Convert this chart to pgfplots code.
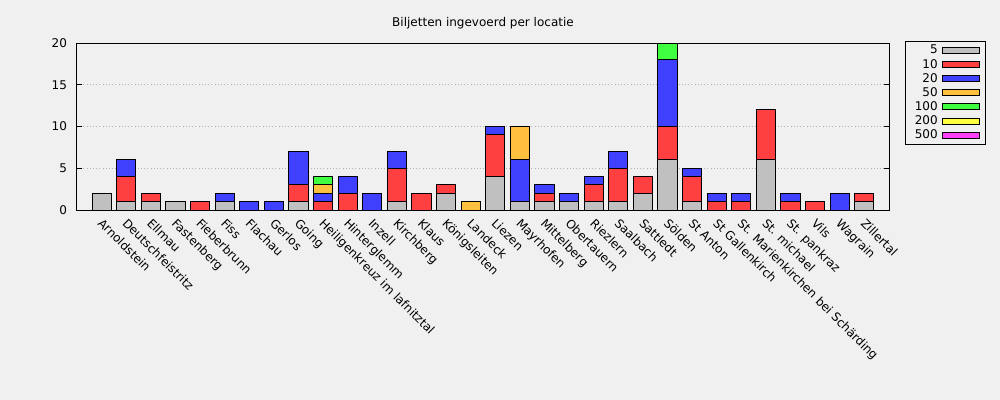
\documentclass[border=0pt]{standalone}
\usepackage{fontspec}
\setmainfont{DejaVu Sans}
\usepackage{pgfplots}
\usepackage{pgfplotstable}
\pgfplotsset{compat=1.18}
\definecolor{bg}{RGB}{240,240,240}
\definecolor{cA}{RGB}{192,192,192}
\definecolor{cB}{RGB}{255,64,64}
\definecolor{cC}{RGB}{64,64,255}
\definecolor{cD}{RGB}{255,192,64}
\definecolor{cE}{RGB}{64,255,64}
\definecolor{cF}{RGB}{255,255,64}
\definecolor{cG}{RGB}{255,64,255}
\pgfplotstableread{
x a b c d e f g
0 2 0 0 0 0 0 0
1 1 3 2 0 0 0 0
2 1 1 0 0 0 0 0
3 1 0 0 0 0 0 0
4 0 1 0 0 0 0 0
5 1 0 1 0 0 0 0
6 0 0 1 0 0 0 0
7 0 0 1 0 0 0 0
8 1 2 4 0 0 0 0
9 0 1 1 1 1 0 0
10 0 2 2 0 0 0 0
11 0 0 2 0 0 0 0
12 1 4 2 0 0 0 0
13 0 2 0 0 0 0 0
14 2 1 0 0 0 0 0
15 0 0 0 1 0 0 0
16 4 5 1 0 0 0 0
17 1 0 5 4 0 0 0
18 1 1 1 0 0 0 0
19 1 0 1 0 0 0 0
20 1 2 1 0 0 0 0
21 1 4 2 0 0 0 0
22 2 2 0 0 0 0 0
23 6 4 8 0 2 0 0
24 1 3 1 0 0 0 0
25 0 1 1 0 0 0 0
26 0 1 1 0 0 0 0
27 6 6 0 0 0 0 0
28 0 1 1 0 0 0 0
29 0 1 0 0 0 0 0
30 0 0 2 0 0 0 0
31 1 1 0 0 0 0 0
}\data
\newcommand{\fs}{\fontsize{9}{10.5}\selectfont}
\begin{document}
\begin{tikzpicture}
\fill[bg] (-57.75pt,-142.5pt) rectangle (692.25pt,157.5pt);
\begin{axis}[
  scale only axis, width=609pt, height=125.25pt,
  ybar stacked, bar width=0.78,
  xmin=-1, xmax=32, ymin=0, ymax=20,
  ytick={0,5,...,20}, xtick={0,...,31},
  xticklabels={Arnoldstein,Deutschfeistritz,Ellmau,Fastenberg,Fieberbrunn,Fiss,Flachau,Gerlos,Going,Heiligenkreuz im lafnitztal,Hinterglemm,Inzell,Kirchberg,Klaus,Königsleiten,Landeck,Liezen,Mayrhofen,Mittelberg,Obertauern,Riezlern,Saalbach,Sattledt,Sölden,St Anton,St Gallenkirch,St. Marienkirchen bei Schärding,St. michael,St. pankraz,Vils,Wagrain,Zillertal},
  xticklabel style={rotate=-45, anchor=north west, inner sep=1pt, xshift=4pt, yshift=-1.8pt},
  x tick style={draw=none},
  tick align=inside, ytick pos=both,
  major tick length=4pt,
  ymajorgrids, grid style={dotted, color=black!30, line width=0.6pt},
  axis line style={line width=0.75pt},
  tick style={line width=0.6pt, black},
  /pgf/number format/assume math mode=true,
  tick label style={font=\fs},
  yticklabel style={xshift=-4pt},
  title={Biljetten ingevoerd per locatie},
  title style={font=\fs, at={(0.5,1)}, anchor=base, yshift=6.2pt},
  legend plot pos=right,
  legend cell align=right,
  legend image code/.code={\draw[#1, line width=0.75pt] (0pt,-2.25pt) rectangle (27.75pt,2.25pt);},
  legend style={at={(1,1)}, anchor=north west, xshift=12pt, yshift=1.5pt,
    draw=black, fill=bg, font=\fs, line width=0.75pt,
    inner xsep=4pt, inner ysep=1.6pt, row sep=0pt,
    nodes={inner ysep=1.2pt, inner xsep=3pt},
  },
  every axis plot/.append style={draw=black, line width=0.75pt},
]
\addplot[fill=cA] table[x=x,y=a]{\data};
\addplot[fill=cB] table[x=x,y=b]{\data};
\addplot[fill=cC] table[x=x,y=c]{\data};
\addplot[fill=cD] table[x=x,y=d]{\data};
\addplot[fill=cE] table[x=x,y=e]{\data};
\addplot[fill=cF] table[x=x,y=f]{\data};
\addplot[fill=cG] table[x=x,y=g]{\data};
\legend{5,10,20,50,100,200,500}
\end{axis}
\pgfresetboundingbox
\useasboundingbox (-57.75pt,-142.5pt) rectangle (692.25pt,157.5pt);
\end{tikzpicture}
\end{document}
